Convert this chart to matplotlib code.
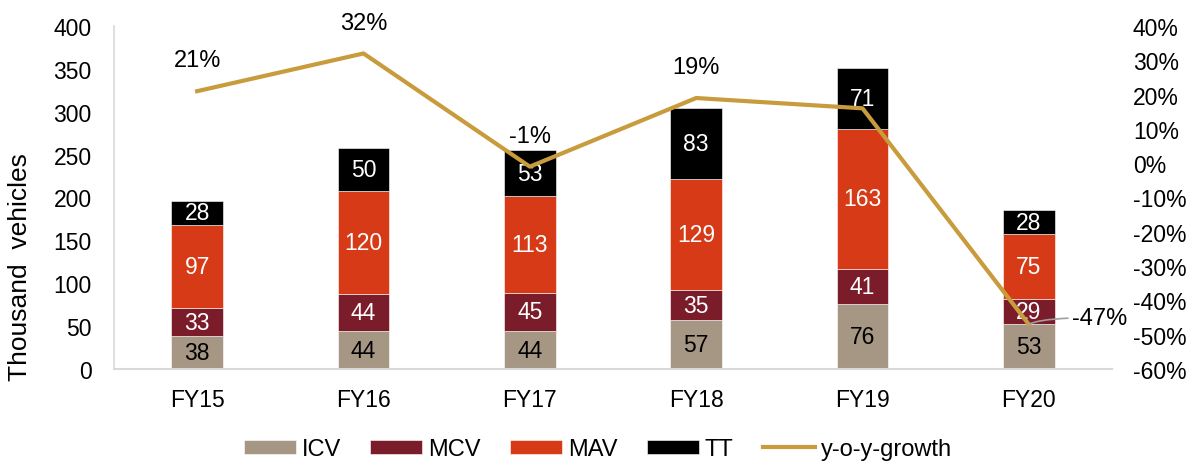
import matplotlib.pyplot as plt
import numpy as np

plt.rcParams['font.family'] = ['Liberation Sans', 'DejaVu Sans']

# Data
years = ['FY15', 'FY16', 'FY17', 'FY18', 'FY19', 'FY20']
icv = [38, 44, 44, 57, 76, 53]
mcv = [33, 44, 45, 35, 41, 29]
mav = [97, 120, 113, 129, 163, 75]
tt = [28, 50, 53, 83, 71, 28]
growth = [21, 32, -1, 19, 16, -47]

colors = {'ICV': '#A69784', 'MCV': '#7B1C2A', 'MAV': '#D63A17', 'TT': '#000000'}
line_color = '#C89B3C'
fs = 16.5

fig = plt.figure(figsize=(11.96, 4.64), dpi=100)
ax = fig.add_axes([114 / 1196, 1 - 370 / 464, (1112 - 114) / 1196, 343 / 464])
x = np.arange(len(years))
w = 0.31

bottom = np.zeros(len(years))
series = [('ICV', icv, 'black'), ('MCV', mcv, 'white'), ('MAV', mav, 'white'), ('TT', tt, 'white')]
for name, vals, tc in series:
    vals = np.array(vals)
    ax.bar(x, vals, w, bottom=bottom, color=colors[name], label=name,
           edgecolor='white', linewidth=0.4)
    for xi, b, v in zip(x, bottom, vals):
        ax.text(xi, b + v / 2, str(v), ha='center', va='center', color=tc, fontsize=fs)
    bottom += vals

ax.set_xlim(-0.5, len(years) - 0.5)
ax.set_ylim(0, 400)
ax.set_yticks(range(0, 401, 50))
ax.set_xticks(x)
ax.set_xticklabels(years)
ax.tick_params(axis='both', length=0, labelsize=fs)
ax.tick_params(axis='x', pad=14)
ax.tick_params(axis='y', pad=16)
for s in ['top', 'right']:
    ax.spines[s].set_visible(False)
ax.spines['left'].set_color('#D9D9D9')
ax.spines['bottom'].set_color('#D9D9D9')
ax.spines['left'].set_linewidth(1.2)
ax.spines['bottom'].set_linewidth(1.5)
ax.set_ylabel('Thousand  vehicles', fontsize=19)
ax.yaxis.set_label_coords(-82 / 998, 0.30)

ax2 = ax.twinx()
ax2.plot(x, growth, color=line_color, linewidth=3, label='y-o-y-growth')
ax2.set_ylim(-60, 40)
ax2.set_yticks(range(-60, 41, 10))
ax2.set_yticklabels([f'{v}%' for v in range(-60, 41, 10)])
ax2.tick_params(axis='y', length=0, labelsize=fs, pad=15)
for s in ax2.spines.values():
    s.set_visible(False)

# growth labels
for i, g in enumerate(growth):
    if i == 4:
        continue
    if i == 5:
        ax2.annotate(f'{g}%', xy=(x[i], g), xytext=(x[i] + 0.26, g + 2.0),
                     ha='left', va='center', fontsize=17,
                     arrowprops=dict(arrowstyle='-', color='#A0A0A0', lw=1.2,
                                     connectionstyle='angle3,angleA=0,angleB=30',
                                     shrinkA=1, shrinkB=0))
    else:
        ax2.text(x[i], g + 9, f'{g}%', ha='center', va='center', fontsize=17)

h1, l1 = ax.get_legend_handles_labels()
h2, l2 = ax2.get_legend_handles_labels()
fig.legend(h1 + h2, l1 + l2, loc='center', bbox_to_anchor=(0.5, 1 - 450 / 464),
           ncol=5, frameon=False, fontsize=17, handlelength=2.2, handleheight=0.55,
           columnspacing=1.25, handletextpad=0.25)

fig.savefig('out.png', dpi=100)
